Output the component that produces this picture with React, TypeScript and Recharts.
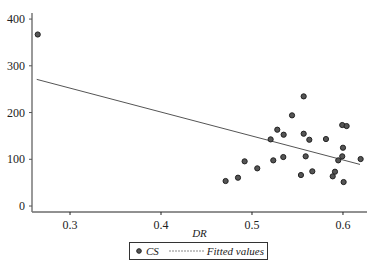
import { Label, Scatter, ScatterChart, XAxis, YAxis } from 'recharts';

const drValues = [
  0.2645, 0.471, 0.4846, 0.4919, 0.5058, 0.5205, 0.5234, 0.5278, 0.5348, 0.5344,
  0.544, 0.5538, 0.5568, 0.5568, 0.559, 0.563, 0.5663, 0.5813, 0.5887, 0.5912,
  0.5948, 0.5992, 0.6, 0.5992, 0.604, 0.6007, 0.6194,
];
const csValues = [
  367, 53.5, 60.6, 95.6, 80.6, 142.6, 97.7, 163.3, 152.6, 104.8,
  194, 66.3, 234.6, 154.7, 106.3, 141.8, 74.2, 143.3, 63.5, 73.4,
  97.7, 106.3, 124.7, 173.3, 171.1, 51.3, 100.5,
];
const fitDR = [0.2634, 0.6187];
const fitValues = [271, 89];
const xTicks = [0.3, 0.4, 0.5, 0.6];
const yTicks = [0, 100, 200, 300, 400];

const points = drValues.map((dr, i) => ({ DR: dr, CS: csValues[i] }));
const fitted = fitDR.map((dr, i) => ({ DR: dr, CS: fitValues[i] }));

const font = 'Liberation Serif';

const Dot = (props: any) => (
  <circle cx={props.cx} cy={props.cy} r={2.6} fill="#555" stroke="#222" strokeWidth={1} />
);

const XTick = (props: any) => (
  <text x={props.x} y={props.y + 12} textAnchor="middle" fontFamily={font} fontSize={12} fill="#222">
    {props.payload.value}
  </text>
);

const YTick = (props: any) => (
  <text x={props.x} y={props.y + 4} textAnchor="end" fontFamily={font} fontSize={12} fill="#222">
    {props.payload.value}
  </text>
);

const LegendBox = () => (
  <div
    style={{
      position: 'absolute',
      left: 129,
      top: 242,
      display: 'flex',
      alignItems: 'center',
      border: '1px solid #333',
      width: 139,
      height: 18,
      boxSizing: 'border-box',
      fontFamily: font,
      fontStyle: 'italic',
      fontSize: 11,
      color: '#222',
    }}
  >
    <svg width={12} height={12} style={{ marginLeft: 4 }}>
      <circle cx={5} cy={6} r={2.3} fill="#555" stroke="#222" />
    </svg>
    <span>CS</span>
    <svg width={38} height={12} style={{ marginLeft: 10 }}>
      <line x1={0} y1={6} x2={35} y2={6} stroke="#888" strokeWidth={1} strokeDasharray="2 1" />
    </svg>
    <span>Fitted values</span>
  </div>
);

export default function App() {
  return (
    <div style={{ position: 'absolute', left: 0, top: 0, width: 384, height: 274, background: '#fff' }}>
      <ScatterChart
        width={384}
        height={274}
        margin={{ top: 13, right: 17, bottom: 45, left: 6 }}
      >
        <XAxis
          type="number"
          dataKey="DR"
          domain={[0.2582, 0.6264]}
          ticks={xTicks}
          allowDataOverflow
          height={17}
          tickSize={3}
          tickMargin={2}
          stroke="#222"
          tick={XTick}
        >
          <Label
            value="DR"
            position="bottom"
            offset={0}
            fontFamily={font}
            fontStyle="italic"
            fontSize={11}
            fill="#222"
          />
        </XAxis>
        <YAxis
          type="number"
          dataKey="CS"
          domain={[-12.8, 413]}
          ticks={yTicks}
          allowDataOverflow
          width={26}
          tickSize={3}
          tickMargin={4}
          axisLine={{ stroke: '#777', strokeWidth: 1.5 }}
          tickLine={{ stroke: '#555' }}
          tick={YTick}
        />
        <Scatter
          name="Fitted values"
          data={fitted}
          line={{ stroke: '#555', strokeWidth: 1 }}
          shape={() => <g />}
          isAnimationActive={false}
        />
        <Scatter name="CS" data={points} shape={Dot} isAnimationActive={false} />
      </ScatterChart>
      <LegendBox />
    </div>
  );
}
